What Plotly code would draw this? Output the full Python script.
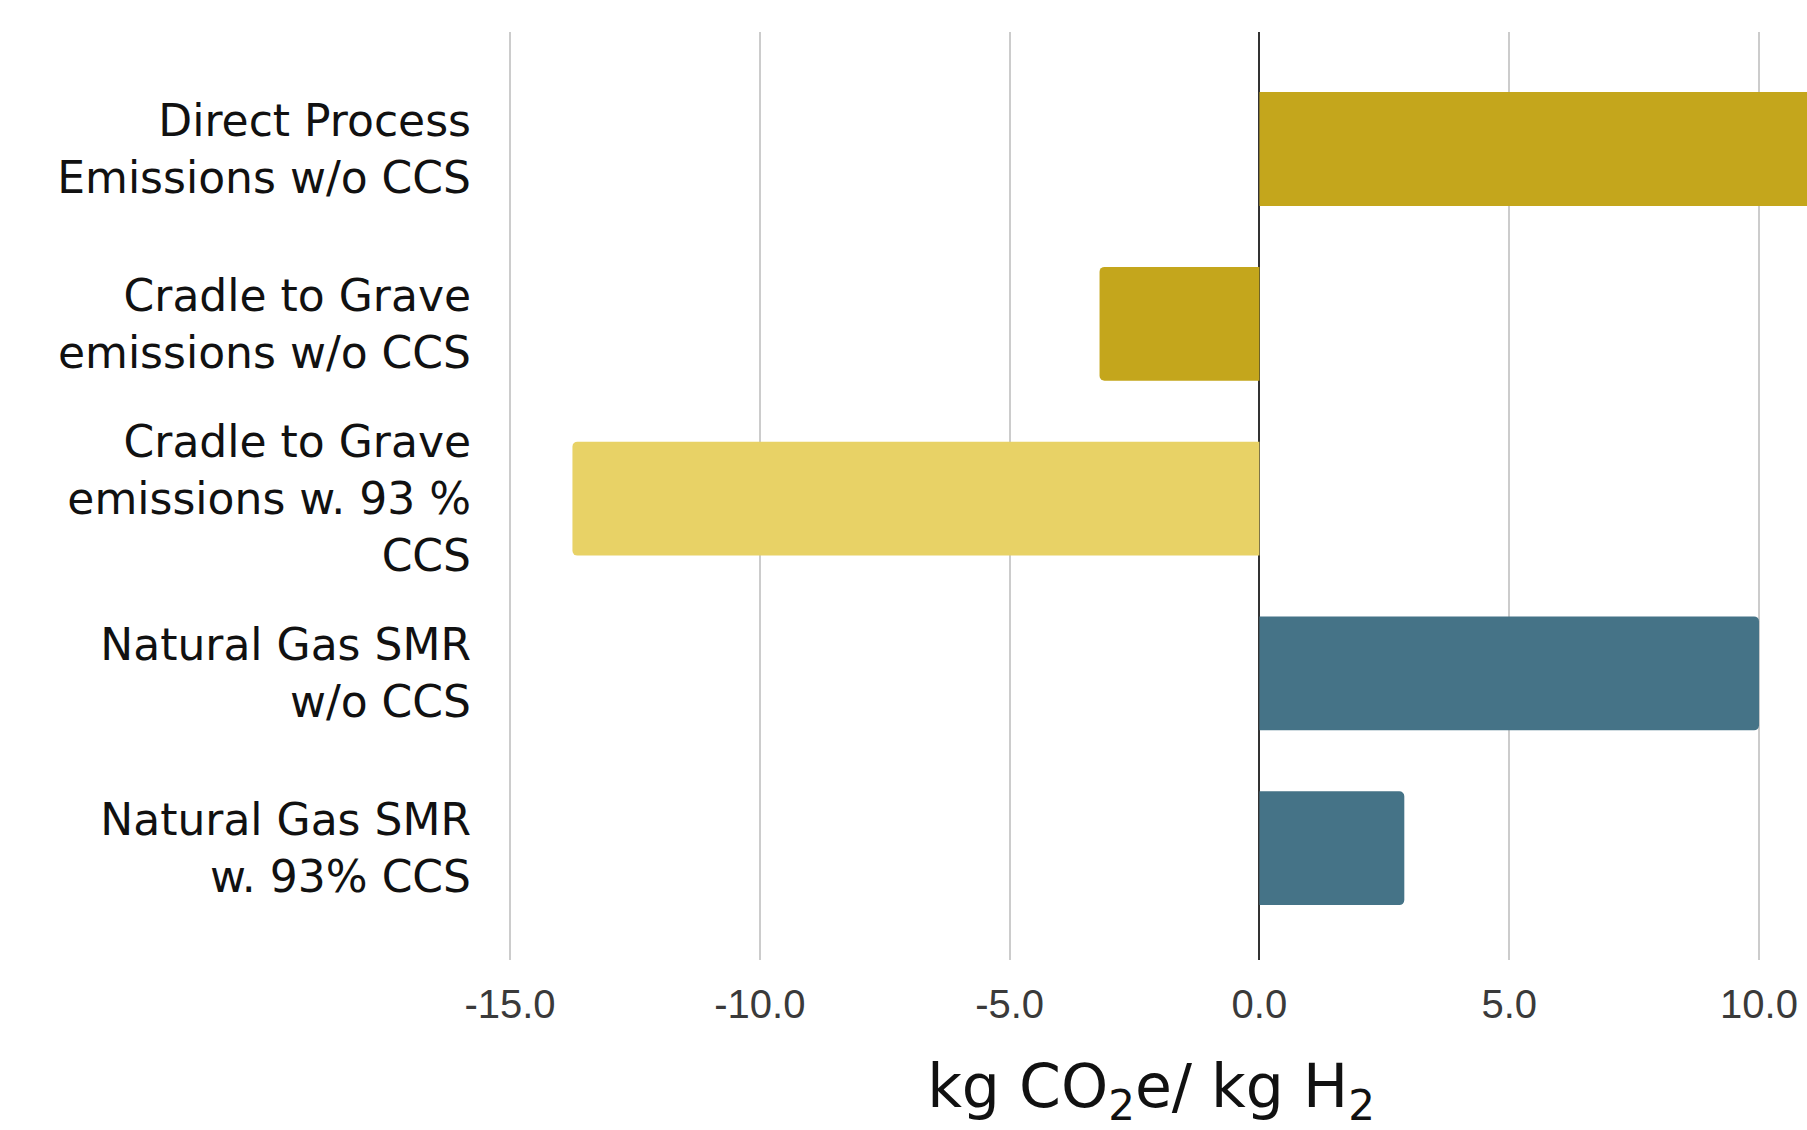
import plotly.graph_objects as go

categories = [
    "Direct Process<br>Emissions w/o CCS",
    "Cradle to Grave<br>emissions w/o CCS",
    "Cradle to Grave<br>emissions w. 93 %<br>CCS",
    "Natural Gas SMR<br>w/o CCS",
    "Natural Gas SMR<br>w. 93% CCS",
]
values = [12.0, -3.2, -13.75, 10.0, 2.9]
colors = ["#C4A61C", "#C4A61C", "#E8D266", "#457387", "#457387"]
tick_vals = [-15, -10, -5, 0, 5, 10]
tick_text = ["-15.0", "-10.0", "-5.0", "0.0", "5.0", "10.0"]

fig = go.Figure(
    go.Bar(
        x=values,
        y=categories,
        orientation="h",
        marker=dict(color=colors, line=dict(width=0), cornerradius=5),
        width=0.652,
        hoverinfo="x+y",
    )
)

fig.update_layout(
    width=1807,
    height=1130,
    margin=dict(l=495, r=0, t=32, b=170),
    paper_bgcolor="white",
    plot_bgcolor="white",
    showlegend=False,
    xaxis=dict(
        range=[-15.3, 10.96],
        tickvals=tick_vals,
        ticktext=tick_text,
        tickfont=dict(family="Liberation Sans, Arial", size=40, color="#3a3a3a"),
        ticklabelstandoff=17,
        showgrid=True,
        gridcolor="#cccccc",
        gridwidth=2,
        zeroline=True,
        zerolinecolor="#333333",
        zerolinewidth=2,
        showline=False,
        ticks="",
        title=dict(
            text="kg CO<sub>2</sub>e/ kg H<sub>2</sub>",
            font=dict(family="DejaVu Sans", size=60, color="#111111"),
            standoff=42,
        ),
    ),
    yaxis=dict(
        range=[4.64, -0.67],
        tickfont=dict(family="DejaVu Sans", size=44, color="#111111"),
        showgrid=False,
        zeroline=False,
        showline=False,
        ticks="",
        ticklabelstandoff=23,
    ),
)

fig.write_html(
    "out.html",
    config={"displayModeBar": False},
    post_script="document.body.style.margin='0';document.body.style.overflow='hidden';",
)
